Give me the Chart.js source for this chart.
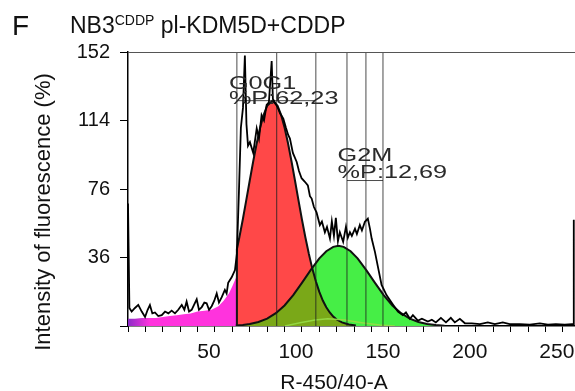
<!DOCTYPE html>
<html>
<head>
<meta charset="utf-8">
<script src="https://cdn.jsdelivr.net/npm/chart.js@4.4.1/dist/chart.umd.min.js"></script>
<style>
  html, body { margin: 0; padding: 0; background: #fff; }
  #wrap { width: 575px; height: 391px; position: relative; }
</style>
</head>
<body>
<div id="wrap"><canvas id="cycle"></canvas></div>
<script>
// DNA content histogram (channel, count %)
const histX = [0, 0.8, 2.1, 4.0, 5.9, 7.9, 9.8, 11.3, 12.6, 14,
  15.5, 17.4, 19.4, 21.3, 23.2, 25.1, 27, 28.9, 30.9, 32.4,
  33.7, 35.1, 36.6, 38.1, 39.5, 40.8, 42.4, 43.9, 45.2, 46.6,
  48.1, 49.6, 51, 52.3, 53.9, 55.7, 56.7, 57.6, 59.6, 61.5,
  62.6, 63.8, 64.9, 66.1, 67.2, 68.1, 69, 70.1, 72, 74,
  75.3, 76.8, 78.2, 79.7, 81, 82.6, 83.3, 84.5, 86.2, 87.4,
  89.3, 90.8, 92.1, 93.1, 94.8, 97, 98.3, 99.8, 101.7, 103.4,
  104.6, 105.6, 106.9, 108.4, 110.3, 111.5, 113.2, 114.4, 116.1, 117.2,
  118.4, 119.5, 120.7, 121.8, 123.7, 125.3, 126.4, 127.6, 128.7, 130.5,
  131.6, 133.3, 134.5, 136.2, 137.9, 139.1, 140.1, 142, 143.9, 145.8,
  148.7, 152.5, 155.2, 158, 159.8, 162.1, 163.8, 166.7, 169, 172.4,
  174.7, 177, 179.9, 182.8, 185.6, 187.9, 190.8, 193.7, 197.7, 202.3,
  206.9, 210.9, 215.5, 219.5, 225.3, 231, 236.8, 241.4, 246, 251.1,
  255.2, 256.2, 256.3];
const histY = [68, 10, 8, 10, 11.7, 8, 5, 9, 11.6, 7,
  7.5, 5.5, 6, 8, 7, 8.5, 7, 9, 11.7, 9,
  13.5, 8, 9, 12, 14.8, 9, 10.5, 13, 12.6, 9,
  11, 14, 18, 13, 16, 20, 18, 24, 27, 31,
  40, 75, 110, 121, 150, 112, 100, 102, 96, 109.6,
  104, 117, 114, 122.6, 124, 147, 126, 124, 121, 118,
  115, 110, 106, 104, 96, 91, 86, 82, 80, 78,
  72, 70.7, 66, 63, 56, 58, 52, 55, 48.5, 58,
  50, 60, 47, 52, 46.7, 55, 49, 52, 50, 54,
  51, 56, 53, 57.8, 59.6, 54, 48.5, 41, 31.8, 22.8,
  17, 11.7, 8, 6, 7.5, 4, 6, 3, 4, 2.5,
  3.5, 2, 4.5, 2, 4.5, 2, 4, 1.5, 1.5, 1,
  2, 1, 2, 1, 1, 0.8, 1.5, 0.8, 1, 0.8,
  1, 1, 59];

// fitted components
const debrisX = [0, 4, 8, 12, 16, 20, 24, 28, 32, 36, 40, 44, 48, 52, 55, 58, 60, 62.6];
const debrisY = [4, 4, 4.5, 4.5, 4.5, 5, 5.5, 6, 6.5, 7, 8, 8.5, 9, 11, 14, 18, 22, 28];

const g0g1X = [62.6, 62.6, 64, 66, 68, 70, 72, 74, 76, 78, 80, 83, 86, 88, 90, 92, 94, 96, 98, 100,
  102, 104, 106, 108, 110, 112, 114, 116, 118, 120, 123, 127, 131];
const g0g1Y = [0, 42.6, 49.1, 59.1, 69.8, 80.7, 91.4, 101.4, 110.1, 117.2, 122.1, 125, 122.1, 117.2, 110.1, 101.4, 91.4, 80.7, 69.8, 59.1,
  49.1, 39.9, 31.7, 24.8, 18.9, 14.1, 10.4, 7.5, 5.2, 3.6, 2, 0.8, 0.3];

const g2mX = [62, 66, 70, 75, 80, 85, 90, 95, 100, 105, 110, 114, 118, 121, 124, 128, 132, 137, 142, 147,
  152, 157, 162, 167, 172, 177, 182];
const g2mY = [0.3, 0.6, 1.1, 2.2, 4.1, 7.1, 11.4, 17.1, 23.9, 31, 37.5, 41.5, 43.9, 44.5, 43.9, 41.5, 37.5, 31, 23.9, 17.1,
  11.4, 7.1, 4.1, 2.2, 1.1, 0.5, 0.2];

// region where the two peaks overlap
const overlapX = [62.6, 66, 70, 75, 80, 85, 90, 95, 100, 105, 105.8, 108, 110, 112, 114, 116, 118, 120, 123, 127, 131];
const overlapY = [0.3, 0.6, 1.1, 2.2, 4.1, 7.1, 11.4, 17.1, 23.9, 31, 32, 24.8, 18.9, 14.1, 10.4, 7.5, 5.2, 3.6, 2, 0.8, 0.3];

const sPhaseX = [90.2, 98.9, 107.5, 114.9, 124.7, 133.3, 144.8, 153.4];
const sPhaseY = [0, 1.8, 3.3, 4, 3.3, 2, 0.5, 0];

// gate markers
const gateX = [62.6, 85.5, 108.0, 125.9, 136.8, 146.6];
const gateBars = [
  { from: 62.6, to: 108.0, level: 125 },
  { from: 125.9, to: 146.6, level: 80.7 }
];
const phaseNames = ["G0G1", "G2M"];
const phasePct = ["%P:62,23", "%P:12,69"];

const xTickLabels = [50, 100, 150, 200, 250];
const yTickValues = [0, 38, 76, 114, 152];
const yTickText = ["", "36", "76", "114", "152"];

const FONT = "'Liberation Sans', Arial, Helvetica, sans-serif";

const pts = (xs, ys) => xs.map((x, i) => ({ x, y: ys[i] }));

function line(data, extra) {
  return Object.assign({
    data,
    pointRadius: 0,
    tension: 0,
    fill: false,
    borderWidth: 1,
    borderColor: "#000"
  }, extra);
}

const datasets = [
  line(pts(histX, histY), { borderWidth: 1.8, borderColor: "#000", order: 1 }),
  line(pts(sPhaseX, sPhaseY), { borderWidth: 1.5, borderColor: "rgba(150,220,70,0.9)", order: 4 }),
  line(pts(g0g1X, g0g1Y), { borderWidth: 2, borderColor: "#111", order: 5 }),
  line(pts(g2mX, g2mY), { borderWidth: 2, borderColor: "#111", order: 5 }),
  line(pts(overlapX, overlapY), { fill: "origin", backgroundColor: "rgb(122,168,24)", borderColor: "rgba(0,0,0,0)", order: 7 }),
  line(pts(g2mX, g2mY), { fill: "origin", backgroundColor: "rgb(70,238,70)", borderColor: "rgba(0,0,0,0)", order: 8 }),
  line(pts(g0g1X, g0g1Y), { fill: "origin", backgroundColor: "rgb(255,72,72)", borderColor: "rgba(0,0,0,0)", order: 9 }),
  line(pts(debrisX, debrisY), {
    fill: "origin",
    borderColor: "rgba(0,0,0,0)",
    order: 10,
    backgroundColor: (c) => {
      const area = c.chart.chartArea;
      if (!area) return "rgb(255,51,221)";
      const g = c.chart.ctx.createLinearGradient(area.left, 0, area.left + 22, 0);
      g.addColorStop(0, "rgb(140,45,200)");
      g.addColorStop(1, "rgb(255,51,221)");
      return g;
    }
  })
];

gateX.forEach((gx) => {
  datasets.push(line([{ x: gx, y: 0 }, { x: gx, y: 152 }], { borderColor: "rgba(30,30,30,0.8)", order: 3 }));
});
gateBars.forEach((b) => {
  datasets.push(line([{ x: b.from, y: b.level }, { x: b.to, y: b.level }], { borderColor: "rgba(30,30,30,0.8)", order: 3 }));
});

// wide, greyish gate captions
function stretchedText(ctx, text, x, y, sx) {
  ctx.save();
  ctx.translate(x, y);
  ctx.scale(sx, 1);
  ctx.fillText(text, 0, 0);
  ctx.restore();
}

const labelsPlugin = {
  id: "labels",
  afterDatasetsDraw(chart) {
    const { ctx, scales } = chart;
    ctx.save();
    ctx.fillStyle = "#2a2a2a";
    ctx.font = `19px ${FONT}`;
    ctx.textBaseline = "alphabetic";
    ctx.textAlign = "left";
    const spots = [{ x: 58, y: 131.5, y2: 123 }, { x: 120.5, y: 91.5, y2: 82 }];
    spots.forEach((s, i) => {
      const px = scales.x.getPixelForValue(s.x);
      stretchedText(ctx, phaseNames[i], px, scales.y.getPixelForValue(s.y), 1.33);
      stretchedText(ctx, phasePct[i], px, scales.y.getPixelForValue(s.y2), 1.33);
    });
    ctx.restore();
  },
  afterDraw(chart) {
    const { ctx, chartArea } = chart;
    ctx.save();
    // top frame
    ctx.strokeStyle = "#555";
    ctx.lineWidth = 1;
    ctx.beginPath();
    ctx.moveTo(chartArea.left, chartArea.top + 0.5);
    ctx.lineTo(chartArea.right, chartArea.top + 0.5);
    ctx.stroke();

    ctx.fillStyle = "#111";
    ctx.textBaseline = "alphabetic";
    ctx.textAlign = "left";
    ctx.font = `28px ${FONT}`;
    ctx.fillText("F", 12, 35);

    let x = 70;
    ctx.font = `23px ${FONT}`;
    ctx.fillText("NB3", x, 33);
    x += ctx.measureText("NB3").width;
    ctx.font = `14px ${FONT}`;
    ctx.fillText("CDDP", x, 25);
    x += ctx.measureText("CDDP").width;
    ctx.font = `23px ${FONT}`;
    ctx.fillText(" pl-KDM5D+CDDP", x, 33);

    // axis titles
    ctx.font = `21px ${FONT}`;
    ctx.textAlign = "center";
    ctx.fillText("R-450/40-A", 334, 389);

    ctx.translate(50, 212);
    ctx.rotate(-Math.PI / 2);
    ctx.font = `22px ${FONT}`;
    ctx.fillText("Intensity of fluorescence (%)", 0, 0);
    ctx.restore();
  }
};

const xMinor = [];
for (let v = 0; v <= 250; v += 10) xMinor.push(v);
xMinor.push(257);

new Chart(document.getElementById("cycle"), {
  type: "line",
  data: { datasets },
  options: {
    responsive: true,
    maintainAspectRatio: false,
    animation: false,
    layout: { padding: { top: 52, left: 0, right: 0, bottom: 0 } },
    plugins: { legend: { display: false }, tooltip: { enabled: false } },
    scales: {
      x: {
        type: "linear",
        min: 0,
        max: 257,
        afterBuildTicks: (scale) => { scale.ticks = xMinor.map((value) => ({ value })); },
        afterFit: (scale) => {
          scale.height = 65;
          scale.paddingLeft = 0;
          scale.paddingRight = 0;
        },
        ticks: {
          autoSkip: false,
          maxRotation: 0,
          labelOffset: -6,
          padding: 8,
          color: "#111",
          font: { family: FONT, size: 21 },
          callback: (v) => (xTickLabels.includes(v) ? String(v) : "")
        },
        grid: { drawOnChartArea: false, tickLength: 6, color: "#000", tickWidth: 1 },
        border: { color: "#000", width: 1.5 }
      },
      y: {
        min: 0,
        max: 152,
        afterBuildTicks: (scale) => { scale.ticks = yTickValues.map((value) => ({ value })); },
        afterFit: (scale) => { scale.width = 128; },
        ticks: {
          autoSkip: false,
          padding: 10,
          color: "#111",
          font: { family: FONT, size: 20 },
          callback: (v, i) => yTickText[i]
        },
        grid: { drawOnChartArea: false, tickLength: 8, color: "#000", tickWidth: 1 },
        border: { color: "#000", width: 1.5 }
      }
    }
  },
  plugins: [labelsPlugin]
});
</script>
</body>
</html>
